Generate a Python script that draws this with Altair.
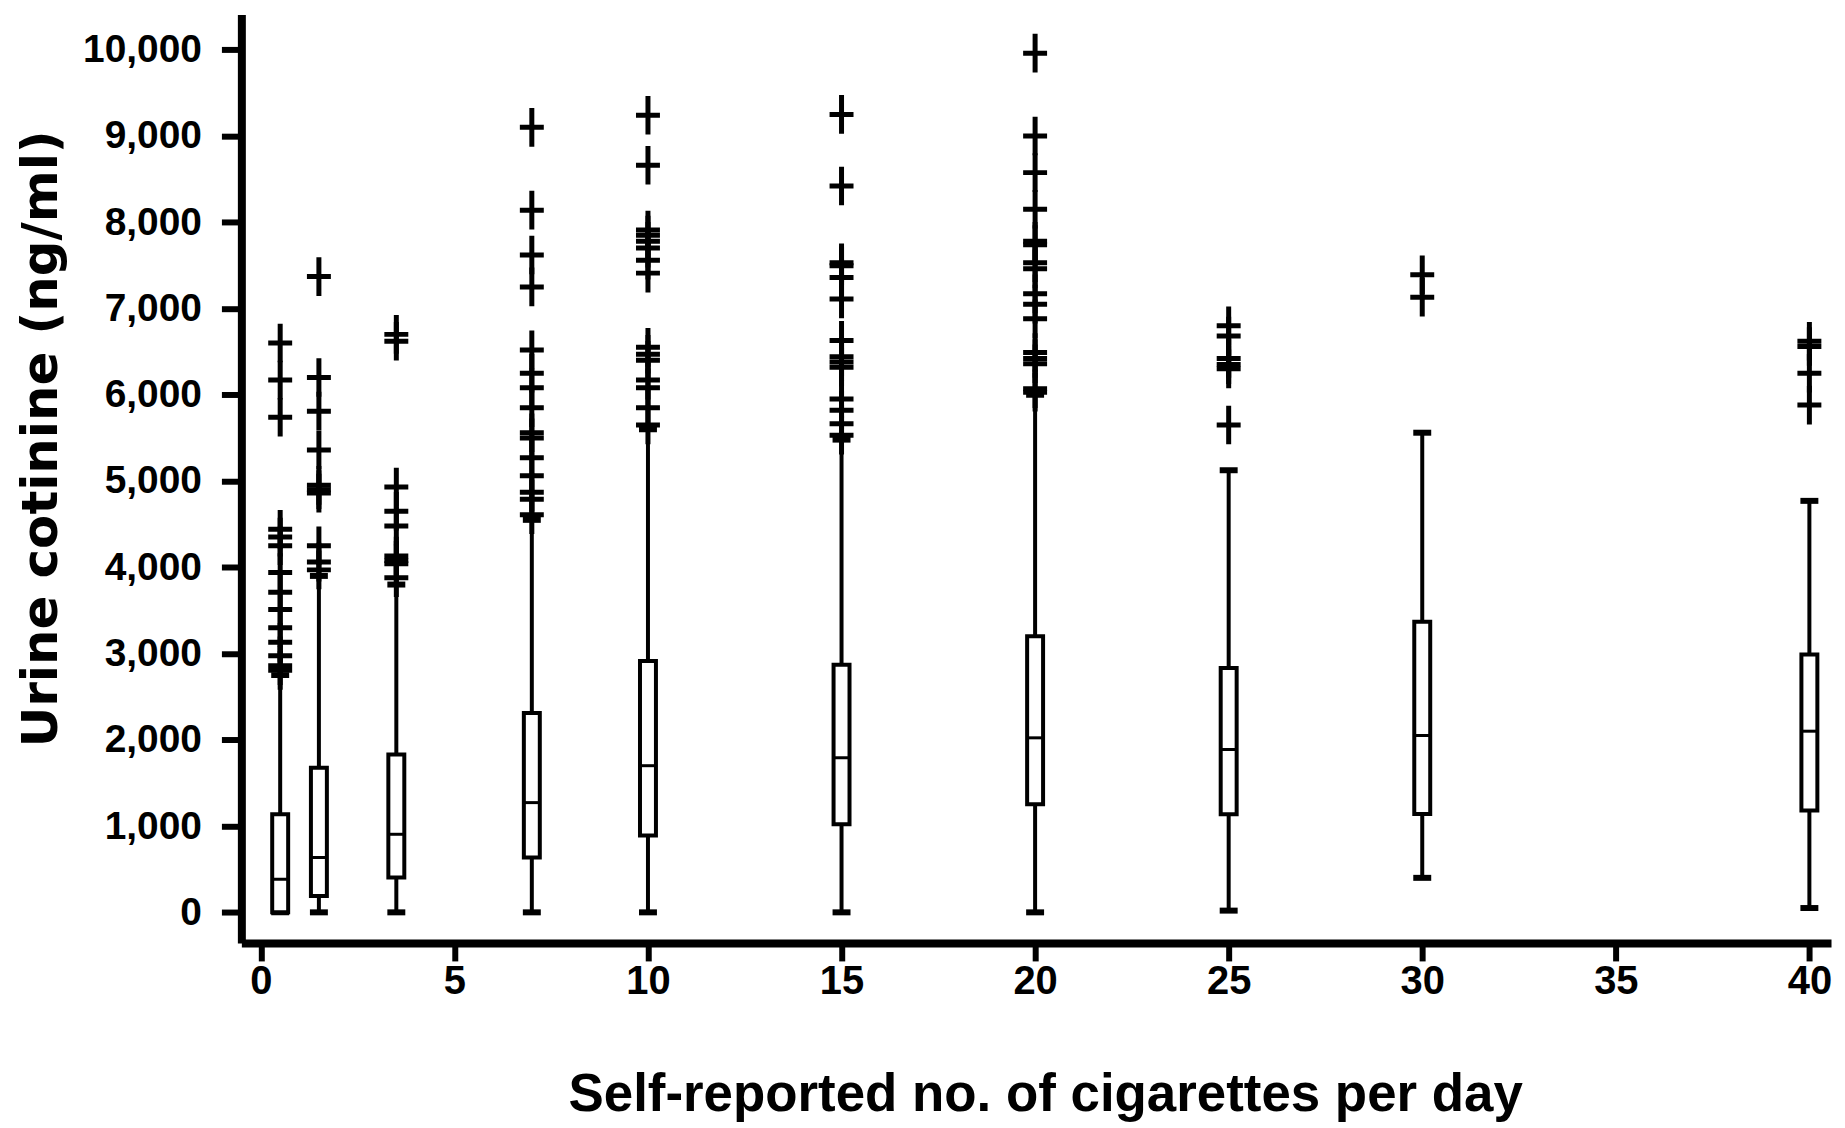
import altair as alt
import pandas as pd

# ---- data ----
groups = [0.5, 1.5, 3.5, 7, 10, 15, 20, 25, 30, 40]
whisker_low = [0, 0, 0, 0, 0, 0, 0, 20, 400, 50]
q1 = [0, 190, 405, 636, 890, 1021, 1252, 1136, 1140, 1180]
median = [385, 636, 905, 1272, 1700, 1792, 2023, 1888, 2050, 2100]
q3 = [1137, 1676, 1830, 2312, 2913, 2870, 3200, 2832, 3370, 2990]
whisker_high = [2750, 3900, 3800, 4550, 5600, 5480, 6000, 5125, 5560, 4770]

outliers_by_group = {
    0.5: [6600, 6170, 5740, 4440, 4350, 4250, 3940, 3710, 3510, 3300, 3130, 2975, 2860, 2805],
    1.5: [7370, 6200, 5810, 5360, 4950, 4900, 4860, 4250, 4060, 3970],
    3.5: [6700, 6620, 4930, 4650, 4480, 4130, 4080, 4040, 3880],
    7: [9100, 8140, 7620, 7250, 6520, 6250, 6080, 5850, 5560, 5500, 5270, 5060, 4870, 4790, 4610],
    10: [9240, 8660, 7910, 7850, 7780, 7700, 7560, 7410, 6550, 6470, 6400, 6170, 6080, 5850, 5650],
    15: [9250, 8420, 7530, 7495, 7360, 7110, 6630, 6440, 6380, 6320, 5950, 5820, 5665, 5530],
    20: [9960, 9000, 8575, 8150, 7780, 7740, 7530, 7460, 7170, 7050, 6880, 6490, 6420, 6360, 6070, 6030],
    25: [6800, 6680, 6420, 6350, 6300, 5650],
    30: [7390, 7130],
    40: [6620, 6560, 6250, 5880],
}

x_ticks = [0, 5, 10, 15, 20, 25, 30, 35, 40]
y_ticks = [0, 1000, 2000, 3000, 4000, 5000, 6000, 7000, 8000, 9000, 10000]
x_title = "Self-reported  no. of cigarettes per day"
y_title = "Urine cotinine (ng/ml)"

box_df = pd.DataFrame({
    "cig": groups, "low": whisker_low, "q1": q1, "med": median, "q3": q3, "high": whisker_high,
})
out_df = pd.DataFrame(
    [{"cig": g, "cot": v} for g, vals in outliers_by_group.items() for v in vals]
)

LBL = "Liberation Sans"

xscale = alt.Scale(domain=[-0.374, 40.43], nice=False, zero=False)
yscale = alt.Scale(domain=[-355, 10408], nice=False, zero=False)

x_axis = alt.Axis(
    values=x_ticks, format="d", title=x_title, grid=False,
    domainColor="black", domainWidth=8, tickColor="black", tickWidth=6, tickSize=18,
    labelFont=LBL, labelFontSize=40, labelFontWeight="bold", labelColor="black",
    labelPadding=1, labelFlush=False,
    titleFont=LBL, titleFontSize=53, titleFontWeight="bold", titleColor="black",
    titleX=806, titleY=168, titleAlign="center", titleBaseline="alphabetic",
)
y_axis = alt.Axis(
    values=y_ticks, format=",d", title=y_title, grid=False,
    domainColor="black", domainWidth=8, tickColor="black", tickWidth=6, tickSize=20,
    labelFont=LBL, labelFontSize=39, labelFontWeight="bold", labelColor="black",
    labelPadding=20,
    titleFont="DejaVu Sans", titleFontSize=50, titleFontWeight="bold", titleColor="black",
    titleX=-200, titleY=425, titleAngle=270, titleAlign="center", titleBaseline="middle",
)

X = alt.X("cig:Q", scale=xscale, axis=x_axis)

whisker = alt.Chart(box_df).mark_rule(color="black", strokeWidth=4).encode(
    x=X, y=alt.Y("low:Q", scale=yscale, axis=y_axis), y2="high:Q"
)
cap_low = alt.Chart(box_df).mark_tick(
    color="black", orient="horizontal", size=18, thickness=6, opacity=1
).encode(x=X, y=alt.Y("low:Q", scale=yscale, axis=y_axis))
cap_high = alt.Chart(box_df).mark_tick(
    color="black", orient="horizontal", size=18, thickness=6, opacity=1
).encode(x=X, y=alt.Y("high:Q", scale=yscale, axis=y_axis))
box = alt.Chart(box_df).mark_bar(
    size=16, fill="white", stroke="black", strokeWidth=4, opacity=1
).encode(x=X, y=alt.Y("q1:Q", scale=yscale, axis=y_axis), y2="q3:Q")
med = alt.Chart(box_df).mark_tick(
    color="black", orient="horizontal", size=14, thickness=3, opacity=1
).encode(x=X, y=alt.Y("med:Q", scale=yscale, axis=y_axis))
outl = alt.Chart(out_df).mark_point(
    shape="M-0.62,0H0.62M0,-1V1", filled=False, color="black",
    strokeWidth=5, size=1500, opacity=1
).encode(x=X, y=alt.Y("cot:Q", scale=yscale, axis=y_axis))

chart = alt.layer(whisker, cap_low, cap_high, box, med, outl).properties(
    width=1594, height=931,
    autosize=alt.AutoSizeParams(type="none"),
    padding={"left": 234, "top": 5, "right": 6, "bottom": 180},
    background="white",
).configure_view(stroke=None)

chart.save("out.html", embed_options={"renderer": "svg", "actions": False})
